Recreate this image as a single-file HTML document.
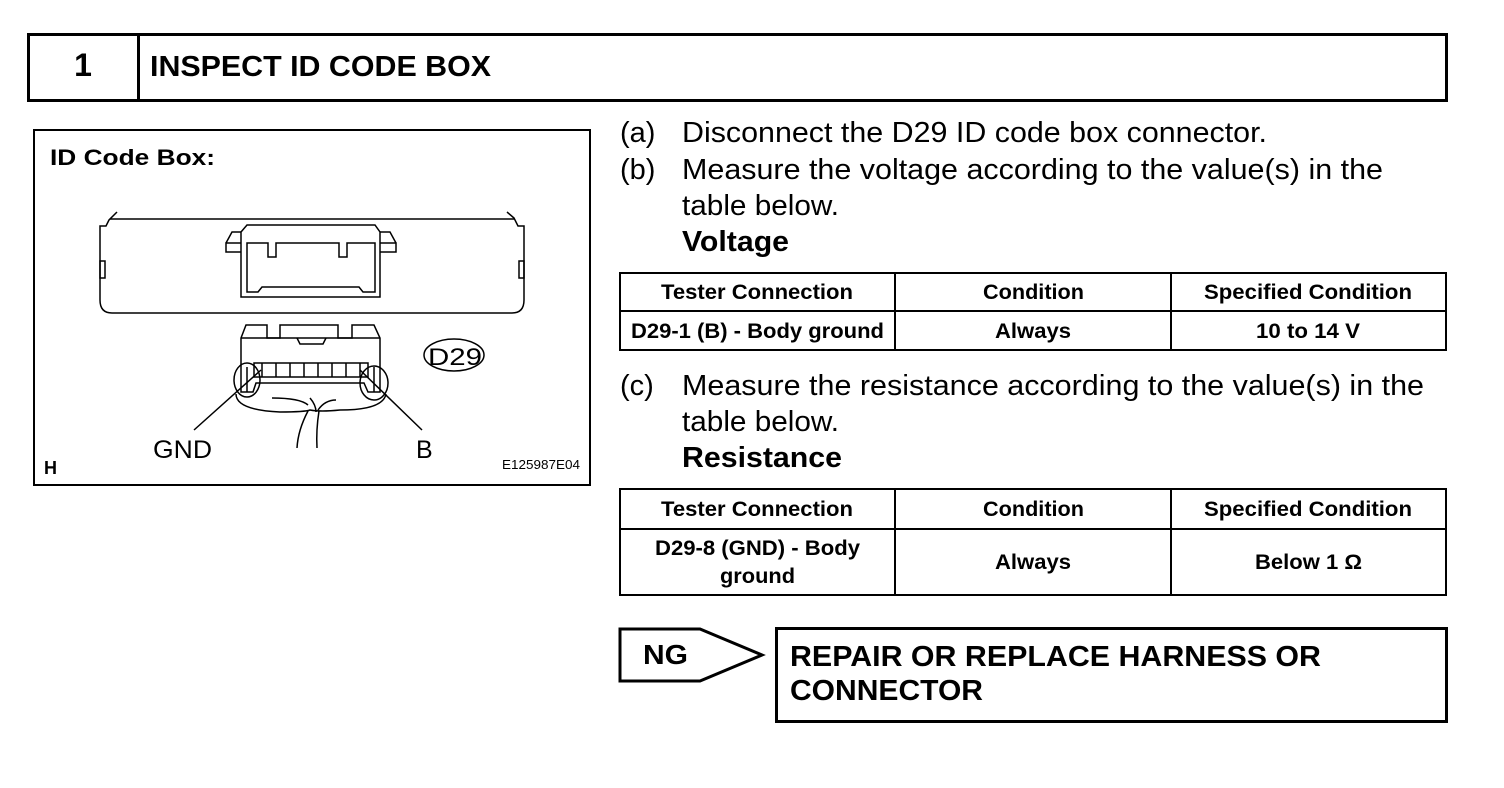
<!DOCTYPE html>
<html><head><meta charset="utf-8"><style>
html,body{margin:0;padding:0;background:#fff;}
svg{display:block;}
text{font-family:"Liberation Sans",Arial,sans-serif;fill:#000;}
.b{font-weight:bold;}
</style></head><body>
<svg width="1504" height="788" viewBox="0 0 1504 788" xmlns="http://www.w3.org/2000/svg">
<!-- header -->
<rect x="28.5" y="34.5" width="1418" height="66" fill="none" stroke="#000" stroke-width="3"/>
<line x1="138.5" y1="34" x2="138.5" y2="101" stroke="#000" stroke-width="3"/>
<text x="83" y="76" class="b" font-size="32" text-anchor="middle">1</text>
<text x="150" y="76" class="b" font-size="29" textLength="341" lengthAdjust="spacingAndGlyphs">INSPECT ID CODE BOX</text>

<!-- figure -->
<rect x="34" y="130" width="556" height="355" fill="none" stroke="#000" stroke-width="2"/>
<text x="50" y="165" class="b" font-size="22" textLength="165" lengthAdjust="spacingAndGlyphs">ID Code Box:</text>
<g fill="none" stroke="#000" stroke-width="1.5">
<path d="M117 212 L109 220 L106 226 L100 226 L100 300 Q100 313 112 313 L512 313 Q524 313 524 300 L524 226 L518 226 L514 218 L507 212"/>
<line x1="110" y1="219" x2="514" y2="219"/>
<rect x="100" y="261" width="5" height="17"/>
<rect x="519" y="261" width="5" height="17"/>
<path d="M241 232 L247 225 L375 225 L380 232 L380 297 L241 297 Z"/>
<path d="M241 243 L226 243 L226 252 L241 252 M241 232 L232 232 L226 243"/>
<path d="M380 243 L396 243 L396 252 L380 252 M380 232 L390 232 L396 243"/>
<path d="M247 243 L268 243 L268 257 L276 257 L276 243 L339 243 L339 257 L347 257 L347 243 L375 243 L375 292 L363 292 L359 287 L262 287 L258 292 L247 292 Z"/>
<path d="M241 392 L241 338 L246 325 L267 325 L267 338 L280 338 L280 325 L338 325 L338 338 L352 338 L352 325 L374 325 L380 338 L380 392 L368 392 L364 383 L256 383 L253 392 Z"/>
<line x1="241" y1="338" x2="380" y2="338"/>
<line x1="247" y1="367" x2="247" y2="392"/><line x1="374" y1="367" x2="374" y2="392"/>
<path d="M297 338 L300 344 L323 344 L326 338"/>
<rect x="254" y="363" width="114" height="14"/>
<line x1="262" y1="363" x2="262" y2="377"/><line x1="276" y1="363" x2="276" y2="377"/><line x1="290" y1="363" x2="290" y2="377"/><line x1="304" y1="363" x2="304" y2="377"/><line x1="318" y1="363" x2="318" y2="377"/><line x1="332" y1="363" x2="332" y2="377"/><line x1="346" y1="363" x2="346" y2="377"/><line x1="360" y1="363" x2="360" y2="377"/>
<ellipse cx="247" cy="380" rx="13" ry="17"/>
<ellipse cx="374" cy="383" rx="14" ry="17"/>
<path d="M236 394 Q236 410 280 412 Q305 412 310 410 Q320 412 340 410 Q383 410 386 394"/>
<path d="M272 398 Q300 398 308 405 M308 411 Q298 430 297 448 M319 411 Q316 430 317 448 M310 398 Q316 405 316 412 M336 400 Q325 400 318 410"/>
<line x1="261" y1="370" x2="194" y2="430"/>
<line x1="360" y1="370" x2="422" y2="430"/>
<ellipse cx="454" cy="355" rx="30" ry="16"/>
</g>
<text x="428" y="365" font-size="24" textLength="54" lengthAdjust="spacingAndGlyphs">D29</text>
<text x="153" y="458" font-size="25" textLength="59" lengthAdjust="spacingAndGlyphs">GND</text>
<text x="416" y="458" font-size="25">B</text>
<text x="44" y="474" class="b" font-size="18">H</text>
<text x="502" y="469" font-size="13" textLength="78" lengthAdjust="spacingAndGlyphs">E125987E04</text>

<!-- right text -->
<g font-size="29">
<text x="620" y="142">(a)</text><text x="682" y="142" textLength="585" lengthAdjust="spacingAndGlyphs">Disconnect the D29 ID code box connector.</text>
<text x="620" y="179">(b)</text><text x="682" y="179" textLength="701" lengthAdjust="spacingAndGlyphs">Measure the voltage according to the value(s) in the</text>
<text x="682" y="215" textLength="157" lengthAdjust="spacingAndGlyphs">table below.</text>
<text x="682" y="251" class="b" textLength="107" lengthAdjust="spacingAndGlyphs">Voltage</text>
<text x="620" y="395">(c)</text><text x="682" y="395" textLength="742" lengthAdjust="spacingAndGlyphs">Measure the resistance according to the value(s) in the</text>
<text x="682" y="431" textLength="157" lengthAdjust="spacingAndGlyphs">table below.</text>
<text x="682" y="467" class="b" textLength="160" lengthAdjust="spacingAndGlyphs">Resistance</text>
</g>

<!-- tables -->
<g fill="none" stroke="#000" stroke-width="2">
<rect x="620" y="273" width="826" height="77"/>
<line x1="620" y1="311" x2="1446" y2="311"/>
<line x1="895" y1="273" x2="895" y2="350"/>
<line x1="1171" y1="273" x2="1171" y2="350"/>
<rect x="620" y="489" width="826" height="106"/>
<line x1="620" y1="529" x2="1446" y2="529"/>
<line x1="895" y1="489" x2="895" y2="595"/>
<line x1="1171" y1="489" x2="1171" y2="595"/>
</g>
<g font-size="21" font-weight="bold">
<text x="661" y="299" textLength="192" lengthAdjust="spacingAndGlyphs">Tester Connection</text>
<text x="983" y="299" textLength="101" lengthAdjust="spacingAndGlyphs">Condition</text>
<text x="1204" y="299" textLength="208" lengthAdjust="spacingAndGlyphs">Specified Condition</text>
<text x="631" y="338" textLength="253" lengthAdjust="spacingAndGlyphs">D29-1 (B) - Body ground</text>
<text x="995" y="338" textLength="76" lengthAdjust="spacingAndGlyphs">Always</text>
<text x="1256" y="338" textLength="104" lengthAdjust="spacingAndGlyphs">10 to 14 V</text>
<text x="661" y="516" textLength="192" lengthAdjust="spacingAndGlyphs">Tester Connection</text>
<text x="983" y="516" textLength="101" lengthAdjust="spacingAndGlyphs">Condition</text>
<text x="1204" y="516" textLength="208" lengthAdjust="spacingAndGlyphs">Specified Condition</text>
<text x="655" y="555" textLength="205" lengthAdjust="spacingAndGlyphs">D29-8 (GND) - Body</text>
<text x="720" y="583" textLength="75" lengthAdjust="spacingAndGlyphs">ground</text>
<text x="995" y="569" textLength="76" lengthAdjust="spacingAndGlyphs">Always</text>
<text x="1255" y="569" textLength="107" lengthAdjust="spacingAndGlyphs">Below 1 Ω</text>
</g>

<!-- NG -->
<polygon points="620,629 700,629 762,655 700,681 620,681" fill="none" stroke="#000" stroke-width="3"/>
<text x="643" y="664" class="b" font-size="28" textLength="45" lengthAdjust="spacingAndGlyphs">NG</text>
<rect x="776.5" y="628.5" width="670" height="93" fill="none" stroke="#000" stroke-width="3"/>
<text x="790" y="666" class="b" font-size="29" textLength="531" lengthAdjust="spacingAndGlyphs">REPAIR OR REPLACE HARNESS OR</text>
<text x="790" y="700" class="b" font-size="29" textLength="193" lengthAdjust="spacingAndGlyphs">CONNECTOR</text>
</svg>
</body></html>
